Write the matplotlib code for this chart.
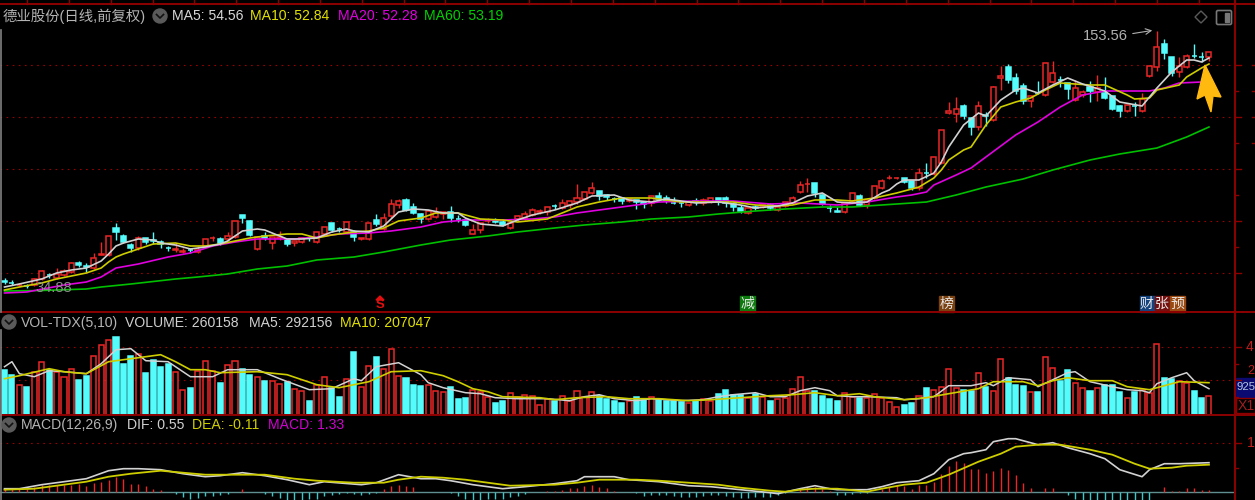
import numpy as np
import matplotlib
matplotlib.use('Agg')
import matplotlib.pyplot as plt
from matplotlib.patches import Polygon, Circle, Rectangle, FancyBboxPatch

plt.rcParams['font.family'] = ['Liberation Sans', 'Noto Sans CJK SC', 'DejaVu Sans']

# price pane, in height above the pane floor
open_ = [29,27.5,25,24.5,25,31,35.5,32,35,38,47,43.8,42,55,55,82,74,65,62,72,70,68,62.5,60.5,58.5,60.3,58,
         64,71.6,71,71,73,95,89,61,74,67,72,70,67,68,72.3,68,76,87,81.3,78,78,71,71,90,81,94,105,
         110,103,96,91,93,96,98,91.3,90,76.5,80,88.7,88.8,88,82,91,92,95,98.2,98,104.3,102,105,108,111,117,
         119,115,111.3,112,109,110,108,107,114,112,107.3,107.3,105,108.6,107,108,112,112,106,102,97,102.8,103,105,100,104,107,
         118,125.7,127,115,102.3,98.8,98,109,114,105,112,122,131.7,131.7,132,129,122,137.3,136,147,
         197,196,204,192,183,195,190,232,243,232,224,209,217.3,215,228,230.3,227,210,215,223,218,217,214,204,199,204.3,199,234,
         243,266,253,238,243,254.3,253.3,253]
close = [28.4,27,25.5,24,31,39,34.8,36,39,47,45,43,52,56.5,74,78,68,62,72,68,69.3,66,62,61.2,59.2,59.7,60,
         71,72.3,67,74,89,92,75,73,72,73,73.5,66,69,72,71.7,78,83,80,80.7,88,73,72,87,86,92,106,109,
         100,97,91,99,97,98,92,90.7,85,80,87,89.3,88.2,85,87,94,96,100,98.8,103,103.7,107,109,112,118,122,
         114,113,110.7,109,111,108,106,114,111,110,106.7,106.7,108,108,110,112,108,107,103,99,102,102.2,105,102,103,108,112,
         125,126.3,117,106,101.7,98.2,107,117,105,110,124,129,132.3,132.3,128,122,137,136.7,153,180,
         199,201,194,183,204,194,223,234,230,219,209,214,216.7,247,237,229.7,221,222,218,219,222,212,201,199,205,203.7,211,244,
         263,257,237,244,254,253.7,252.7,258]
high = [32,30,27,26,32,40,37.5,42,41,48,49,47,57,68,74.5,87,76,67,74,72.5,78,70,64,67,62,62,64,
        71.5,74,73,78,89.5,95.5,90,73.5,78,73.5,79,70.5,69.5,72.5,74,78.5,83.5,87.5,83.3,88.5,80,72.5,87.5,96,97,111,111,
        112,107,97,99.5,103,98.5,104,95,92,86,87.5,92,92,91,87.5,95,99,102,101,103.5,106,111,109.5,126,118.5,128,
        119.5,116,113,112.5,111.5,110.5,108.5,114.5,118,115,113,108,108.5,112,112,112.5,112.5,114,108,105,102.5,105,105.5,107,103.5,108.5,114,
        129,132,127.5,116,105,103,108,117.5,116,110.5,124.5,131,135,133,132.5,129.5,142,147,153.5,180.5,
        208,213,206,193,209,198,224,244,246,237,227,214.5,229,247.5,249,234,227.5,230,220,229,235,233,214.5,205,205.5,208,217,244.5,
        279,271,253.5,253,256,266,258,258.5]
low = [26,25,24,22,24,30,32,31,34,37,43,38,41,55,54.5,70,67,58,60,66,66,62,59,58,57,57,57,
       63,69,65,69,72,87,74,60.5,70,61,70,64,64,67,69,67.5,75.5,78,78,77.5,69,70.5,70.5,84,80,92,102,
       99,96,87,90,92.5,91,88,88,84.5,76,77,87,87,84.5,81.5,89,90,94,96,95,101,101.5,102,106,110.5,116.5,
       110,110,108,106,108.5,101,102,104,110.5,107,106,103,104.5,105,105,107.5,105,103,99,97,96.5,100,102.5,100,99.5,103.5,106.5,
       117.5,118,113,105,98,98,97.5,108.5,104.5,102,111.5,121.5,131,131.5,127.5,120,120,132,135.5,146.5,
       196.5,188,191,175,180,184,189.5,220,227,216,206,203,216,214.5,227.5,223,211,209.5,213,208,209,211.5,200.5,193,198.5,194,198.5,233.5,
       239,251,234,233,242.5,252,248,249]

ma5_x = [0,2,5,7,9,11,13,14,15,16,18,20,21,23,25,27,29,30,31,32,34,35,37,38,40,42,44,46,47,49,51,52,53,55,57,59,61,62,64,67,69,71,74,77,79,82,84,87,89,93,96,99,101,104,106,108,110,112,114,116,118,119,120,121,123,125,126,127,129,131,132,134,136,137,139,141,143,145,148,150,153,154,155,157,159,160,161,162]
ma5 = [23,26,31,37,40,42,49,56,64,67,71,70,67,65,61,63,66,69,74,79,81,80,74,71,71,72,78,81,79,78,84,91,98,101,100,97,97,92,86,84,90,95,100,107,114,115,110,108,111,107,108,105,102,104,107,114,117,108,107,108,117,120,126,130,130,137,148,163,185,197,194,210,220,222,217,225,232,226,219,208,204,213,222,238,250,250,248,252]
ma10_x = [0,2,5,7,9,11,13,14,15,16,18,20,23,25,27,29,31,33,35,38,40,42,44,47,49,51,53,56,58,61,63,64,67,69,73,75,77,80,83,87,91,94,98,101,104,106,109,112,114,117,120,123,125,126,127,129,130,132,134,136,138,140,142,146,148,151,152,154,155,158,159,161,162]
ma10 = [20,23,27,31,34,37,42,48,53,56,61,66,67,64,64,66,69,72,74,76,76,72,75,78,79,82,89,92,97,97,93,91,90,88,91,97,103,108,112,112,108,108,108,105,104,105,110,110,109,112,117,123,132,140,150,160,163,185,203,208,212,220,227,225,225,215,211,212,220,225,233,242,246]
ma20_x = [0,3,8,11,13,15,18,22,25,28,31,34,39,42,45,49,52,56,59,62,67,71,74,77,81,85,88,93,98,103,107,112,116,120,122,124,125,128,130,132,136,139,142,145,148,154,156,158,161,162]
ma20 = [17,18,25,28,33,42,46,53,57,64,68,71,71,73,76,77,79,83,88,90,90,91,93,97,101,105,108,109,109,106,107,105,108,113,115,118,125,135,142,153,175,188,203,215,219,219,222,227,228,229]
ma60_x = [0,5,11,13,17,23,26,30,34,38,42,47,51,56,60,65,69,74,78,83,87,92,96,101,105,110,114,120,124,128,132,137,141,146,150,155,159,162]
ma60 = [19,19.5,21,23,26,31,33,36,41,44,50,53,58,65,70,74,78,82,85,88,91,93,96,99,101,103,103,106,108,115,123,131,140,150,156,162,173,183]

# volume pane, bar heights
volume = [45,40,30,28,43,53,45,43,38,46,35,39,59,70,75,78,51,59,61,42,55,48,51,43,25,27,44,54,44,32,50,54,46,40,38,34,34,31,33,26,24,14,30,38,27,18,36,63,28,49,58,46,66,39,37,30,
          29,30,24,23,28,16,17,25,23,18,12,14,22,18,20,19,10,16,14,19,14,24,18,23,19,16,14,12,14,18,15,18,16,14,14,13,12,14,16,14,21,25,20,20,17,21,18,14,16,17,26,38,24,24,19,16,
          14,22,18,17,17,21,17,13,8,10,12,19,27,25,28,46,27,25,24,42,28,24,56,37,30,29,23,23,58,47,34,45,32,27,24,27,30,30,23,17,23,25,22,71,37,36,34,32,24,17,19]
vol_ma5_x = [0,1,2,4,6,8,11,13,15,17,19,22,25,28,30,34,37,41,44,47,48,50,53,56,57,59,62,64,66,69,73,76,78,80,82,85,87,91,94,96,98,101,103,105,107,109,111,112,114,116,120,121,123,125,127,130,132,133,135,138,139,141,143,144,146,149,151,153,154,155,157,159,160,162]
vol_ma5 = [48,53,41,38,44,43,41,51,65,66,54,53,38,38,45,45,36,25,26,36,34,48,52,40,32,27,22,21,17,16,16,14,18,20,16,14,16,14,15,18,20,22,18,18,24,27,24,19,18,18,17,15,16,18,29,29,32,29,37,35,28,35,42,43,33,28,25,24,22,31,37,42,34,26]
vol_ma10_x = [0,2,6,8,11,14,17,21,23,25,27,29,34,38,42,45,49,52,56,59,61,63,65,67,72,74,77,81,84,88,92,95,99,103,106,109,112,115,117,121,124,127,131,133,137,139,141,143,146,149,151,154,156,158,162]
vol_ma10 = [36,39,46,43,41,53,56,60,53,45,45,42,43,40,30,27,33,43,44,39,33,26,23,18,17,15,17,18,16,16,14,15,17,19,20,22,19,21,18,15,17,21,26,33,33,29,34,37,34,34,28,25,29,33,32]

# macd pane
dif_x = [0,2,5,8,11,14,16,18,21,24,27,29,32,35,38,41,43,48,50,53,56,58,60,63,67,70,74,77,78,82,84,88,92,95,99,103,104,107,109,111,112,116,118,120,123,125,127,129,130,132,133,135,136,139,141,143,146,148,150,153,154,156,158,162]
dif = [3,3,7,10,13,21,23,23,22,18,15,16,19,16,12,7,10,7,9,17,13,13,11,7,3,5,8,11,15,15,12,10,6,5,2,-1,-2,3,6,3,2,2,5,9,11,18,32,38,39,42,50,53,53,47,49,44,38,33,22,15,22,28,28,29]
dea_x = [0,4,8,11,14,17,21,24,27,31,35,39,42,47,51,53,56,59,62,65,68,74,77,80,85,88,92,96,99,103,105,107,109,112,116,118,121,124,127,131,134,136,139,142,146,149,152,154,157,159,162]
dea = [2,3,7,10,15,18,21,19,17,17,17,13,11,9,9,12,15,14,12,9,6,7,9,12,12,11,9,7,4,1,0,2,3,3,0,3,7,9,17,30,38,45,47,47,42,37,28,23,24,26,27]
macd_hist = [4,4,4,3,5,7,7,7,7,7,8,6,9,10,12,15,13,8,8,6,3,2,0,-2,-5,-7,-6,-4,-4,-3,-2,0,3,0,0,-2,-4,-6,-8,-8,-8,-7,-7,-4,-3,-2,-1,-2,-3,-2,-1,3,6,7,6,5,
             0,0,0,0,-1,-4,-7,-8,-8,-7,-7,-7,-5,-4,-2,0,0,1,1,2,4,4,6,7,5,4,1,0,0,-1,-4,-3,-3,-3,-4,-5,-5,-5,-4,-3,-3,-4,-5,-6,-6,-5,-5,-5,-3,-1,0,3,5,5,3,1,
             -3,-3,-2,-1,-1,0,3,5,7,6,3,7,7,10,18,26,31,29,23,23,19,21,24,22,17,9,4,0,4,4,0,-3,-7,-9,-9,-9,-9,-9,-9,-9,-9,-9,-9,0,5,1,1,4,4,2,2]

main_grid = [245, 193, 141, 89, 37]
vol_grid = [67.7, 34.7]
macd_grid = [48.4]

RED = '#EC2626'
CYAN = '#54FCFC'
FRAME = '#8C0000'
DOT = '#9A0000'
WHITE = '#D2D2D2'
YELLOW = '#CDCD00'
MAGENTA = '#E000E0'
GREEN = '#00C000'
GRAY = '#B4B4B4'

W, H = 1255, 500
fig = plt.figure(figsize=(W / 100, H / 100), dpi=100, facecolor='black')

def pane(top, bottom, ymin, ymax):
    a = fig.add_axes([0, 1 - bottom / H, 1235 / W, (bottom - top) / H], facecolor='black')
    a.set_xlim(-4.5 / 7.435, (1235 - 4.5) / 7.435)
    a.set_ylim(ymin, ymax)
    a.axis('off')
    return a

def grid(a, levels):
    for g in levels:
        a.axhline(g, color=DOT, lw=0.8, ls=(0, (1.5, 4)), zorder=0)

ax = pane(4, 312, -2, 306)
ax2 = pane(312, 415, -0.3, 102.7)
ax3 = pane(415, 500, -8.3, 76.7)

grid(ax, main_grid)
grid(ax2, vol_grid)
grid(ax3, macd_grid)

x = np.arange(len(close))
o = np.array(open_)
c = np.array(close)
up = c >= o
colors = [RED if u else CYAN for u in up]
faces = ['black' if u else CYAN for u in up]

ax.vlines(x, low, high, colors=colors, lw=1, zorder=1)
ax.bar(x, np.abs(c - o), bottom=np.minimum(o, c), width=0.68, facecolor=faces, edgecolor=colors, lw=1.1, zorder=2)
ax.plot(ma60_x, ma60, color=GREEN, lw=1.2, zorder=3)
ax.plot(ma20_x, ma20, color=MAGENTA, lw=1.2, zorder=3)
ax.plot(ma10_x, ma10, color=YELLOW, lw=1.2, zorder=3)
ax.plot(ma5_x, ma5, color=WHITE, lw=1.2, zorder=3)

ax2.bar(x, volume, width=0.68, facecolor=faces, edgecolor=colors, lw=1.1, zorder=2)
ax2.plot(vol_ma5_x, vol_ma5, color=WHITE, lw=1.1, zorder=3)
ax2.plot(vol_ma10_x, vol_ma10, color=YELLOW, lw=1.2, zorder=3)

hist = np.array(macd_hist)
ax3.axhline(0, color='#5F8F8F', lw=1, zorder=1)
ax3.vlines(x, 0, hist, colors=[RED if h > 0 else '#3CC8C8' for h in hist], lw=1, zorder=2)
ax3.plot(dif_x, dif, color=WHITE, lw=1.2, zorder=3)
ax3.plot(dea_x, dea, color=YELLOW, lw=1.3, zorder=3)

# frame, labels and badges in image pixels
ov = fig.add_axes([0, 0, 1, 1])
ov.set_xlim(0, W)
ov.set_ylim(H, 0)
ov.axis('off')
ov.patch.set_alpha(0)

ov.plot([0, W], [4, 4], color=FRAME, lw=1.4)
ov.plot([0, W], [312, 312], color=FRAME, lw=1.4)
ov.plot([0, W], [415, 415], color=FRAME, lw=1.4)
ov.plot([1235, 1235], [0, H], color=FRAME, lw=1.4)
ov.plot([1, 1], [30, 312], color='#808080', lw=1.2)
ov.plot([1, 1], [330, 500], color='#808080', lw=1.2)
for tx in np.arange(27, 1235, 41.85):
    ov.plot([tx, tx], [0, 4], color=FRAME, lw=1)
for ty in [65, 117, 169, 221, 273, 347, 380, 443]:
    ov.plot([1235, 1241], [ty, ty], color=FRAME, lw=1)
for ty in [91, 143, 195, 247, 364, 397, 468]:
    ov.plot([1235, 1238], [ty, ty], color=FRAME, lw=1)
for ty in [65, 91, 117, 143]:
    ov.plot([1252, W], [ty, ty], color=FRAME, lw=1)

def label(px, py, s, color=GRAY, size=10.1):
    ov.text(px, py, s, color=color, fontsize=size, va='center', ha='left')

def chevron(cx, cy):
    ov.add_patch(Circle((cx, cy), 7, color='#5A5A5A', zorder=4))
    ov.plot([cx - 3.5, cx, cx + 3.5], [cy - 1.5, cy + 2, cy - 1.5], color='#111111', lw=1.2, zorder=5)

label(3, 16, '德业股份(日线,前复权)', GRAY, 10.4)
chevron(160, 16)
label(172, 16, 'MA5: 54.56', '#D8D8D8')
label(250, 16, 'MA10: 52.84', '#E0E000')
label(338, 16, 'MA20: 52.28', '#E000E0')
label(424, 16, 'MA60: 53.19', '#00D000')

chevron(9, 322)
label(21, 323, 'VOL-TDX(5,10)')
label(125, 323, 'VOLUME: 260158', '#D0D0D0')
label(249, 323, 'MA5: 292156', '#D0D0D0')
label(340, 323, 'MA10: 207047', '#E0E000')

chevron(9, 425)
label(21, 425, 'MACD(12,26,9)')
label(127, 425, 'DIF: 0.55', '#D0D0D0')
label(192, 425, 'DEA: -0.11', '#D0D000')
label(268, 425, 'MACD: 1.33', '#D000D0')

label(1083, 36, '153.56', '#B0B0B0', 10.6)
ov.annotate('', xy=(1155, 30), xytext=(1130, 34), arrowprops=dict(arrowstyle='->', color='#B0B0B0', lw=0.8))
label(35, 288, '34.88', '#8C8C8C', 10.6)

ov.add_patch(Polygon([(1205, 65), (1221, 97), (1213, 96), (1211, 112), (1205, 95), (1197, 99)], color='#FFB90F', zorder=6))

ov.add_patch(Polygon([(1201, 11), (1207, 17), (1201, 23), (1195, 17)], fill=False, edgecolor='#5A5A5A', lw=1))
ov.add_patch(FancyBboxPatch((1218, 12), 12, 11, boxstyle='round,pad=1.5', fill=False, edgecolor='#777777', lw=1.2))
ov.add_patch(Rectangle((1225, 13), 4, 9, color='#777777'))

# event badges
ov.text(380, 305, 'S', color='#E01010', fontsize=9.5, fontweight='bold', ha='center', va='center')
ov.add_patch(Polygon([(376, 300), (384, 300), (380, 296)], color='#E01010'))
for bx, s, col in [(747.5, '减', '#0C7A0C'), (946.5, '榜', '#7A4210'), (1147, '财', '#14437E'), (1162, '张', '#741010'), (1177.5, '预', '#9A4A10')]:
    ov.add_patch(Rectangle((bx - 7.5, 295.5), 15, 16, color=col))
    ov.text(bx, 303.5, s, color='#E8E8E8', fontsize=10, ha='center', va='center')

ov.add_patch(Rectangle((1236, 378), 19, 19, color='#0A0A70'))
ov.text(1236.5, 387.5, '925', color='#B4C8E0', fontsize=8.2, va='center')
ov.add_patch(Rectangle((1236, 398), 19, 15, fill=False, edgecolor=FRAME, lw=1))
ov.text(1238, 406, 'X1', color='#A02020', fontsize=10.1, va='center')
ov.text(1246, 347, '4', color='#C02020', fontsize=10.1, va='center')
ov.text(1247, 371, '2', color='#C02020', fontsize=9, va='center')
ov.text(1247, 443, '1', color='#C02020', fontsize=10.1, va='center')

fig.savefig('out.png', dpi=100, facecolor='black')
